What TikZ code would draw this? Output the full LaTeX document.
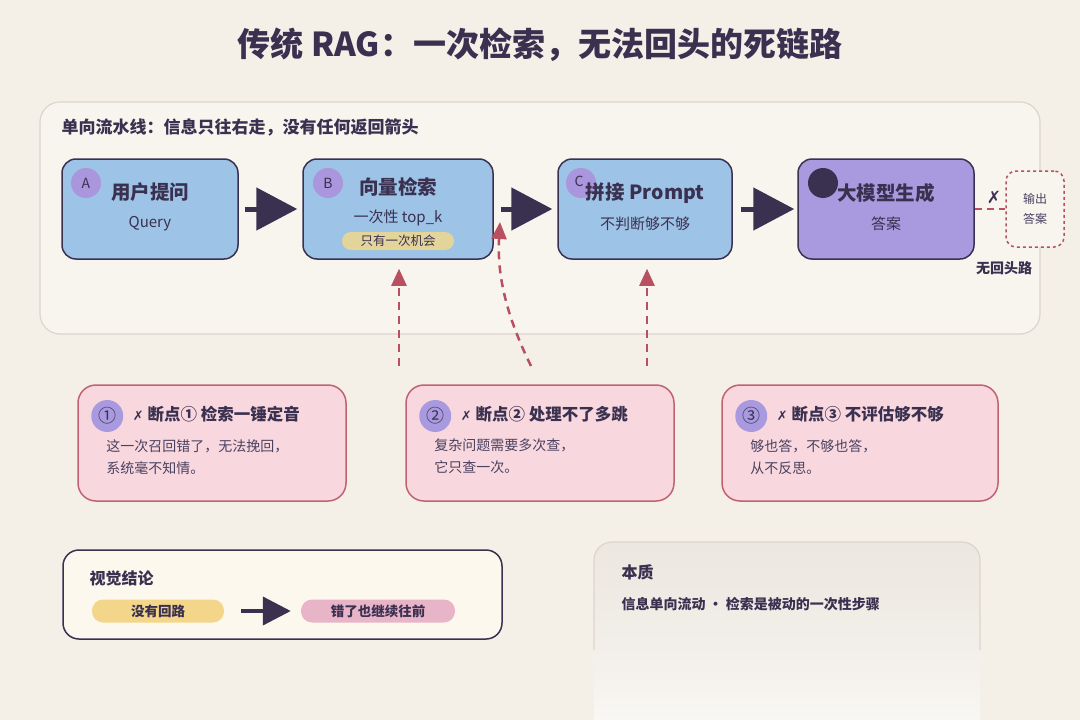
\documentclass[tikz,border=0pt]{standalone}
\usepackage{fontspec}
\setmainfont{Noto Sans CJK SC}
\newfontfamily\markfont{DejaVu Sans}
\usetikzlibrary{positioning, arrows.meta, calc}
\definecolor{RAG_Bg}{HTML}{F4F0E8}
\definecolor{RAG_Panel}{HTML}{F8F5EF}
\definecolor{RAG_Line}{HTML}{DCD5CB}
\definecolor{RAG_Ink}{HTML}{3A3050}
\definecolor{RAG_Text}{HTML}{4A4060}
\definecolor{RAG_Blue}{HTML}{9DC3E6}
\definecolor{RAG_Violet}{HTML}{A99ADF}
\definecolor{RAG_Badge}{HTML}{A996DD}
\definecolor{RAG_Chip}{HTML}{E3D59A}
\definecolor{RAG_Red}{HTML}{B9505F}
\definecolor{RAG_CardLine}{HTML}{C06272}
\definecolor{RAG_CardFill}{HTML}{F8D8DE}
\definecolor{RAG_Yellow}{HTML}{F3D68A}
\definecolor{RAG_Pink}{HTML}{E8B4C8}
\definecolor{RAG_Note}{HTML}{FDF8EE}
\definecolor{RAG_Mist}{HTML}{ECE7DF}

\tikzset{
  stageBox/.style={draw=RAG_Ink, line width=1.5pt, rounded corners=14pt,
    minimum height=100pt, inner sep=0pt},
  stageTitle/.style={font=\fontsize{19.5}{22}\selectfont\bfseries, text=RAG_Ink},
  stageSub/.style={font=\fontsize{15}{18}\selectfont, text=RAG_Ink},
  badge/.style={circle, fill=RAG_Badge, minimum size=30pt, inner sep=0pt,
    font=\fontsize{14}{14}\selectfont, text=RAG_Ink},
  flowArrow/.style={line width=5pt, RAG_Ink, -{Triangle[length=41pt, width=42pt]}},
  breakArrow/.style={line width=2.5pt, RAG_Red, dash pattern=on 8pt off 6pt,
    -{Triangle[length=17pt, width=15pt]}},
  breakCard/.style={draw=RAG_CardLine, line width=1.5pt, fill=RAG_CardFill,
    rounded corners=18pt, minimum height=116pt},
  cardBadge/.style={circle, fill=RAG_Violet, minimum size=32pt, inner sep=0pt,
    font=\fontsize{18}{18}\selectfont, text=RAG_Ink},
  cardTitle/.style={anchor=west, font=\fontsize{16.5}{18}\selectfont\bfseries, text=RAG_Ink},
  cardBody/.style={anchor=north west, align=left, inner sep=0pt,
    font=\fontsize{14}{22}\selectfont, text=RAG_Text},
  pill/.style={rounded corners=11pt, minimum height=23pt, inner sep=0pt,
    font=\fontsize{13.5}{14}\selectfont\bfseries, text=RAG_Ink}
}

\begin{document}
\begin{tikzpicture}[x=1pt, y=-1pt]
  \useasboundingbox (0,0) rectangle (1080,720);
  \fill[RAG_Bg] (0,0) rectangle (1080,720);
  % Title
  \node[font=\fontsize{33}{36}\selectfont\bfseries, text=RAG_Ink] (title) at (540,45)
    {传统 RAG：一次检索，无法回头的死链路};
  % Pipeline panel
  \draw[RAG_Line, line width=1.2pt, fill=RAG_Panel, rounded corners=20pt]
    (40,102) rectangle (1040,334);
  \node[anchor=west, font=\fontsize{17}{18}\selectfont\bfseries, text=RAG_Ink] (panelLabel)
    at (58,127) {单向流水线：信息只往右走，没有任何返回箭头};
  % Stage A
  \node[stageBox, fill=RAG_Blue, minimum width=176pt] (qBox) at (150,209) {};
  \node[badge] (qBadge) at (86,183) {A};
  \node[stageTitle] (qTitle) at (150,192) {用户提问};
  \node[stageSub] (qSub) at (150,224) {Query};
  % Stage B
  \node[stageBox, fill=RAG_Blue, minimum width=190pt] (rBox) at (398,209) {};
  \node[badge] (rBadge) at (328,183) {B};
  \node[stageTitle] (rTitle) at (398,187) {向量检索};
  \node[stageSub] (rSub) at (398,218) {一次性 top\_k};
  \node[fill=RAG_Chip, rounded corners=9pt, minimum width=112pt, minimum height=18pt,
        inner sep=0pt, font=\fontsize{12.5}{13}\selectfont, text=RAG_Ink] (rChip)
        at (398,241) {只有一次机会};
  % Stage C
  \node[stageBox, fill=RAG_Blue, minimum width=174pt] (pBox) at (645,209) {};
  \node[badge] (pBadge) at (581,183) {};
  \node[font=\fontsize{14}{14}\selectfont, text=RAG_Ink] at (579,181) {C};
  \node[stageTitle] (pTitle) at (645,193) {拼接 Prompt};
  \node[stageSub] (pSub) at (645,224) {不判断够不够};
  % Stage D
  \node[stageBox, fill=RAG_Violet, minimum width=176pt] (gBox) at (886,209) {};
  \node[badge, fill=RAG_Ink] (gBadge) at (823,183) {};
  \node[stageTitle] (gTitle) at (886,193) {大模型生成};
  \node[stageSub] (gSub) at (886,224) {答案};
  % Forward arrows
  \draw[flowArrow, shorten <=6pt, shorten >=5pt] (qBox.east) -- (rBox.west);
  \draw[flowArrow, shorten <=7pt, shorten >=5pt] (rBox.east) -- (pBox.west);
  \draw[flowArrow, shorten <=8pt, shorten >=3pt] (pBox.east) -- (gBox.west);
  % Dead end output
  \node[draw=RAG_Red, dashed, line width=1.5pt, fill=RAG_Panel, rounded corners=10pt,
        minimum width=58pt, minimum height=76pt, align=center,
        font=\fontsize{12}{20}\selectfont, text=RAG_Text] (outBox) at (1035,209) {输出\\答案};
  \draw[RAG_Red, line width=2.5pt, dash pattern=on 7pt off 5pt] (gBox.east) -- (outBox.west);
  \node[font=\markfont\fontsize{17}{17}\selectfont, text=RAG_Ink] (deadMark) at (994,197) {✗};
  \node[font=\fontsize{14}{16}\selectfont\bfseries, text=RAG_Ink] (deadLabel) at (1004,268) {无回头路};
  % Break point arrows
  \coordinate (brkOne) at (399,366);
  \coordinate (brkTwo) at (531,366);
  \coordinate (gapBC) at (500,222);
  \coordinate (brkThree) at (647,366);
  \draw[breakArrow, shorten >=9pt] (brkOne) -- (brkOne |- rBox.south);
  \draw[breakArrow] (brkTwo) .. controls (506,315) and (497,275) .. (gapBC);
  \draw[breakArrow, shorten >=9pt] (brkThree) -- (brkThree |- pBox.south);
  % Break point cards
  \foreach \cx/\cw/\name/\num/\head/\lineA/\lineB in {
      212/268/cardOne/①/检索一锤定音/这一次召回错了，无法挽回，/系统毫不知情。,
      540/268/cardTwo/②/处理不了多跳/复杂问题需要多次查，/它只查一次。,
      860/276/cardThree/③/不评估够不够/够也答，不够也答，/从不反思。} {
    \node[breakCard, minimum width=\cw pt] (\name) at (\cx,443) {};
    \node[cardBadge] (\name Badge) at ($(\name.west)+(30pt,27pt)$) {\num};
    \node[cardTitle] (\name Title) at ($(\name Badge.east)+(6pt,2pt)$)
      {{\markfont\fontsize{13}{13}\selectfont ✗} 断点\num\ \head};
    \node[cardBody] (\name Body) at ($(\name.west)+(29pt,4pt)$) {\lineA\\\lineB};
  }
  % Visual conclusion
  \node[draw=RAG_Ink, line width=1.5pt, fill=RAG_Note, rounded corners=16pt,
        minimum width=439pt, minimum height=89pt] (noteCard) at (282.5,594.5) {};
  \node[anchor=west, font=\fontsize{16}{17}\selectfont\bfseries, text=RAG_Ink] (noteTitle)
    at (86,578) {视觉结论};
  \node[pill, fill=RAG_Yellow, minimum width=132pt] (noLoop) at (158,611) {没有回路};
  \node[pill, fill=RAG_Pink, minimum width=154pt] (keepOn) at (378,611) {错了也继续往前};
  \draw[line width=4pt, RAG_Ink, -{Triangle[length=28pt, width=28pt]},
        shorten <=17pt, shorten >=10pt] (noLoop.east) -- (keepOn.west);
  % Essence card
  \shade[top color=RAG_Mist, bottom color=white!60!RAG_Bg, middle color=RAG_Mist!70!white,
         rounded corners=18pt] (594,542) rectangle (980,740);
  \draw[RAG_Line, line width=1.2pt, rounded corners=18pt]
    (594,650) -- (594,542) -- (980,542) -- (980,650);
  \node[anchor=west, font=\fontsize{16}{17}\selectfont\bfseries, text=RAG_Ink] (essTitle)
    at (618,572) {本质};
  \node[anchor=west, font=\fontsize{14}{15}\selectfont\bfseries, text=RAG_Ink] (essText)
    at (618,604) {信息单向流动 · 检索是被动的一次性步骤};
\end{tikzpicture}
\end{document}
